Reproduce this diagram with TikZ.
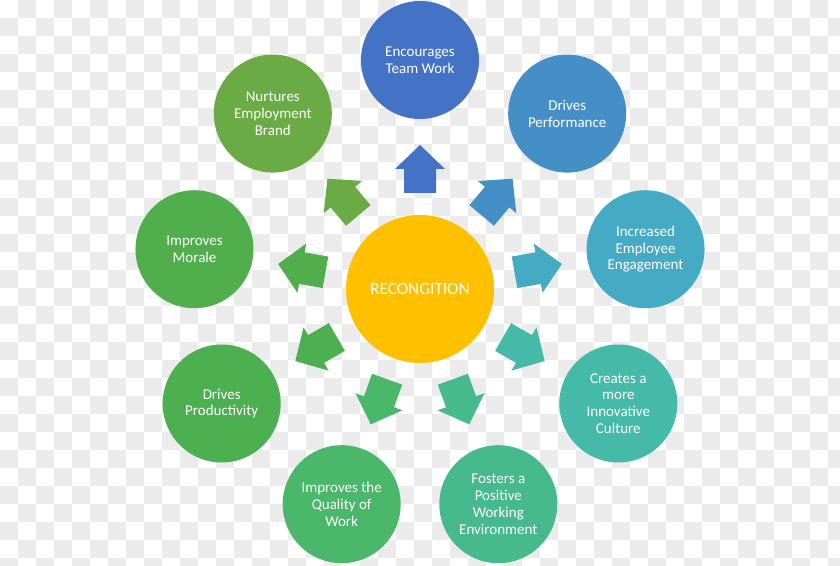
\documentclass[tikz,border=0pt]{standalone}
\usepackage{fontspec}
\setmainfont{Carlito}
\usetikzlibrary{calc}
\definecolor{chk}{HTML}{EBEBEB}
\definecolor{cA}{HTML}{4472C4}
\definecolor{cB}{HTML}{448FC6}
\definecolor{cC}{HTML}{45ABC4}
\definecolor{cD}{HTML}{45BAA8}
\definecolor{cE}{HTML}{46BA8C}
\definecolor{cF}{HTML}{4AB76A}
\definecolor{cG}{HTML}{4CAF50}
\definecolor{cH}{HTML}{50AE4C}
\definecolor{cI}{HTML}{6AAB45}
\definecolor{cMid}{HTML}{FFC000}
\tikzset{
  bub/.style={circle, minimum size=118pt, inner sep=0pt, text=white, align=center,
    font=\fontsize{15}{16.8}\selectfont},
  hub/.style={circle, minimum size=148pt, inner sep=0pt, text=white, align=center,
    font=\fontsize{17.2}{19}\selectfont},
}
\newcommand\myarrow[2]{%
  \begin{scope}[shift={(C)}, rotate=#1]
    \fill[#2] (96,-16) -- (120,-16) -- (120,-25) -- (144,0) -- (120,25) -- (120,16) -- (96,16) -- cycle;
  \end{scope}}
\begin{document}
\begin{tikzpicture}[x=1pt,y=1pt]
\useasboundingbox (0,0) rectangle (840,565);
\clip (0,0) rectangle (840,565);
\fill[white] (0,0) rectangle (840,565);
\foreach \i in {0,...,46}{
  \foreach \j in {0,...,31}{
    \pgfmathtruncatemacro{\chkpar}{mod(\i+\j,2)}
    \ifnum\chkpar=1
      \fill[chk] (\i*18,565-\j*18-18) rectangle ++(18,18);
    \fi
  }
}
\coordinate (C) at (420,276);
\node[hub, fill=cMid] (rec) at (C) {RECONGITION};
\node[bub, fill=cA] (n1) at ($(C)+(90:229)$) {Encourages\\Team Work};
\node[bub, fill=cB] (n2) at ($(C)+(50:229)$) {Drives\\Performance};
\node[bub, fill=cC] (n3) at ($(C)+(10:229)$) {Increased\\Employee\\Engagement};
\node[bub, fill=cD] (n4) at ($(C)+(-30:229)$) {Creates a\\more\\Innovative\\Culture};
\node[bub, fill=cE] (n5) at ($(C)+(-70:229)$) {Fosters a\\Positive\\Working\\Environment};
\node[bub, fill=cF] (n6) at ($(C)+(-110:229)$) {Improves the\\Quality of\\Work};
\node[bub, fill=cG] (n7) at ($(C)+(-150:229)$) {Drives\\Productivity};
\node[bub, fill=cH] (n8) at ($(C)+(170:229)$) {Improves\\Morale};
\node[bub, fill=cI] (n9) at ($(C)+(130:229)$) {Nurtures\\Employment\\Brand};
\myarrow{90}{cA}
\myarrow{50}{cB}
\myarrow{10}{cC}
\myarrow{-30}{cD}
\myarrow{-70}{cE}
\myarrow{-110}{cF}
\myarrow{-150}{cG}
\myarrow{170}{cH}
\myarrow{130}{cI}
\end{tikzpicture}
\end{document}
